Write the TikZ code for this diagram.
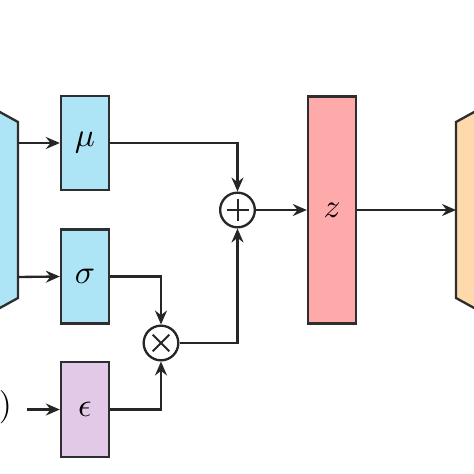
\documentclass[tikz,border=0pt]{standalone}
\usetikzlibrary{arrows.meta}
\definecolor{encblue}{HTML}{ADE5F7}
\definecolor{epspurple}{HTML}{E3C9E8}
\definecolor{zpink}{HTML}{FFAAAA}
\definecolor{decpeach}{HTML}{FDD9AC}
\definecolor{edge}{HTML}{2E2E2E}
\begin{document}
\begin{tikzpicture}[x=0.3pt,y=-0.3pt,
  line width=0.7pt,
  arr/.style={draw=black!85, -{Stealth[length=4.2pt,width=3.6pt,inset=1.4pt]}},
  vbox/.style={draw=edge, minimum width=14.4pt, inner sep=0pt},
  opnode/.style={circle, draw=black!85, minimum size=10.4pt, inner sep=0pt},
  plusop/.style={opnode, path picture={
      \draw[line width=0.6pt] (path picture bounding box.center) ++(-3.3pt,0) -- ++(6.6pt,0);
      \draw[line width=0.6pt] (path picture bounding box.center) ++(0,-3.3pt) -- ++(0,6.6pt);}},
  timesop/.style={opnode, path picture={
      \draw[line width=0.6pt] (path picture bounding box.center) ++(-2.5pt,-2.5pt) -- ++(5pt,5pt);
      \draw[line width=0.6pt] (path picture bounding box.center) ++(-2.5pt,2.5pt) -- ++(5pt,-5pt);}}
]
\useasboundingbox (0,0) rectangle (474,474);
% encoder (cut by the left edge)
\filldraw[fill=encblue, draw=edge] (-60,79) -- (18,122) -- (18,298) -- (-60,341) -- cycle;
% decoder (cut by the right edge)
\filldraw[fill=decpeach, draw=edge] (534,79) -- (456,122) -- (456,298) -- (534,341) -- cycle;
\coordinate (encmu) at (18,143);
\coordinate (encsig) at (18,277);
\coordinate (decin) at (456,210);

\node[vbox, fill=encblue, minimum height=28.2pt] (mu) at (85,143) {$\mu$};
\node[vbox, fill=encblue, minimum height=28.2pt] (sig) at (85,276.5) {$\sigma$};
\node[vbox, fill=epspurple, minimum height=28.5pt] (eps) at (85,409.5) {$\epsilon$};
\node[vbox, fill=zpink, minimum height=68.1pt] (z) at (332,210) {$z$};
\node[plusop] (plus) at (237.5,210) {};
\node[timesop] (times) at (161,343) {};
\node[inner sep=0pt, anchor=east] (paren) at (13,407) {$)$};

\draw[arr] (encmu) -- (mu.west);
\draw[arr] (encsig) -- (sig.west);
\draw[arr] ([xshift=4.2pt]paren.east |- eps.west) -- (eps.west);
\draw[arr] (mu.east) -| (plus.north);
\draw[arr] (sig.east) -| (times.north);
\draw[arr] (eps.east) -| (times.south);
\draw[arr] (times.east) -| (plus.south);
\draw[arr] (plus.east) -- (z.west);
\draw[arr] (z.east) -- (decin);
\end{tikzpicture}
\end{document}
